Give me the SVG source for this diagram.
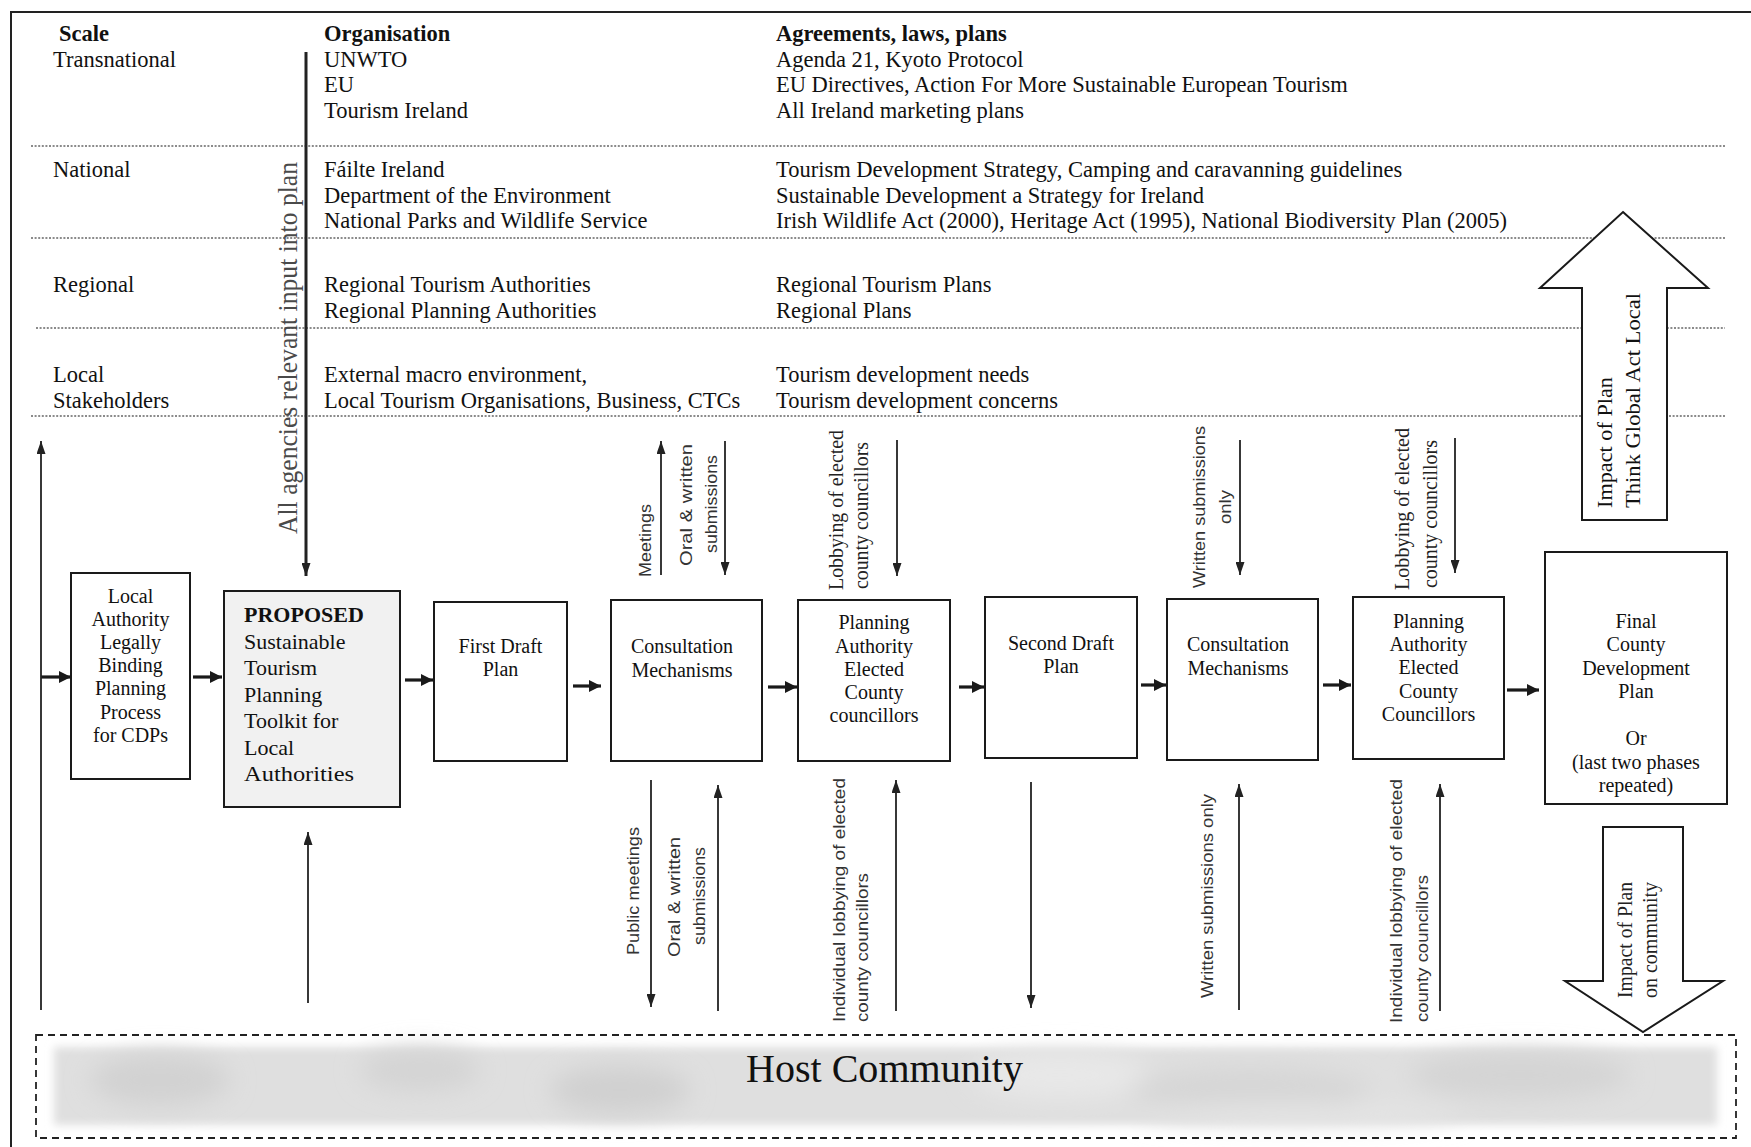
<svg xmlns="http://www.w3.org/2000/svg" width="1751" height="1147" viewBox="0 0 1751 1147">
  <style>
    .t { font-family: "Liberation Serif", "Times New Roman", serif; fill: #111; }
    .h { font-size: 22.5px; }
    .b { font-weight: bold; }
    .bx { fill: #fff; stroke: #1a1a1a; stroke-width: 2; }
    .bt { font-family: "Liberation Serif", "Times New Roman", serif; font-size: 20px; text-anchor: middle; fill: #111; }
    .s { font-family: "Liberation Sans", Arial, sans-serif; font-size: 17px; fill: #333; }
    .r20 { font-family: "Liberation Serif", "Times New Roman", serif; font-size: 20px; fill: #222; }
    .dot { stroke: #666; stroke-width: 1.4; stroke-dasharray: 2 1.6; fill: none; }
    .thick { stroke: #1a1a1a; stroke-width: 3.2; fill: none; marker-end: url(#hh); }
    .thin { stroke: #222; stroke-width: 1.8; fill: none; marker-end: url(#hv); }
    .frame { stroke: #222; stroke-width: 2; fill: none; }
    .block { fill: #fff; stroke: #1a1a1a; stroke-width: 2; stroke-linejoin: miter; }
  </style>
  <defs>
    <marker id="hh" markerUnits="userSpaceOnUse" markerWidth="12" markerHeight="12" viewBox="0 0 12 12" refX="12" refY="6" orient="auto">
      <path d="M0,0 L12,6 L0,12 Z" fill="#1a1a1a"/>
    </marker>
    <marker id="hv" markerUnits="userSpaceOnUse" markerWidth="13" markerHeight="9" viewBox="0 0 13 9" refX="13" refY="4.5" orient="auto">
      <path d="M0,0 L13,4.5 L0,9 Z" fill="#222"/>
    </marker>
    <filter id="soft" x="-5%" y="-30%" width="110%" height="160%">
      <feGaussianBlur stdDeviation="4"/>
    </filter>
    <filter id="cloud" x="-20%" y="-50%" width="140%" height="200%">
      <feGaussianBlur stdDeviation="12"/>
    </filter>
  </defs>

  <rect width="1751" height="1147" fill="#fff"/>

  <!-- outer frame: top and left edges -->
  <path class="frame" d="M11,1147 L11,12 L1751,12"/>

  <!-- scale table separators -->
  <g id="separators">
    <line class="dot" x1="31" y1="146" x2="1725" y2="146"/>
    <line class="dot" x1="31" y1="238" x2="1725" y2="238"/>
    <line class="dot" x1="36" y1="328" x2="1725" y2="328"/>
    <line class="dot" x1="31" y1="416" x2="1725" y2="416"/>
  </g>

  <!-- scale table -->
  <g id="scale-table" class="t h">
    <text class="b" x="59" y="41">Scale</text>
    <text x="53" y="67">Transnational</text>
    <text x="53" y="177">National</text>
    <text x="53" y="292">Regional</text>
    <text x="53" y="382">Local</text>
    <text x="53" y="408">Stakeholders</text>

    <text class="b" x="324" y="41">Organisation</text>
    <text x="324" y="67">UNWTO</text>
    <text x="324" y="92">EU</text>
    <text x="324" y="118">Tourism Ireland</text>
    <text x="324" y="177">Fáilte Ireland</text>
    <text x="324" y="203">Department of the Environment</text>
    <text x="324" y="228">National Parks and Wildlife Service</text>
    <text x="324" y="292">Regional Tourism Authorities</text>
    <text x="324" y="318">Regional Planning Authorities</text>
    <text x="324" y="382">External macro environment,</text>
    <text x="324" y="408">Local Tourism Organisations, Business, CTCs</text>

    <text class="b" x="776" y="41">Agreements, laws, plans</text>
    <text x="776" y="67">Agenda 21, Kyoto Protocol</text>
    <text x="776" y="92">EU Directives, Action For More Sustainable European Tourism</text>
    <text x="776" y="118">All Ireland marketing plans</text>
    <text x="776" y="177">Tourism Development Strategy, Camping and caravanning guidelines</text>
    <text x="776" y="203">Sustainable Development a Strategy for Ireland</text>
    <text x="776" y="228">Irish Wildlife Act (2000), Heritage Act (1995), National Biodiversity Plan (2005)</text>
    <text x="776" y="292">Regional Tourism Plans</text>
    <text x="776" y="318">Regional Plans</text>
    <text x="776" y="382">Tourism development needs</text>
    <text x="776" y="408">Tourism development concerns</text>
  </g>

  <!-- big block arrows -->
  <g id="impact-up">
    <polygon class="block" points="1623,212 1708,288 1667,288 1667,520 1582,520 1582,288 1540,288"/>
    <text class="t" font-size="22" transform="translate(1612,508) rotate(-90)" textLength="131" lengthAdjust="spacingAndGlyphs">Impact of Plan</text>
    <text class="t" font-size="22" transform="translate(1640,508) rotate(-90)" textLength="215" lengthAdjust="spacingAndGlyphs">Think Global Act Local</text>
  </g>
  <g id="impact-down">
    <polygon class="block" points="1603,827 1683,827 1683,981 1723,981 1643,1032 1565,981 1603,981"/>
    <text class="r20" transform="translate(1632,998) rotate(-90)" textLength="116" lengthAdjust="spacingAndGlyphs">Impact of Plan</text>
    <text class="r20" transform="translate(1657,998) rotate(-90)" textLength="116" lengthAdjust="spacingAndGlyphs">on community</text>
  </g>

  <!-- host community: soft mottled grey band inside a dashed outline -->
  <g id="host-community">
    <rect x="54" y="1047" width="1663" height="78" fill="#dfdfdf" filter="url(#soft)"/>
    <g filter="url(#cloud)">
      <ellipse cx="160" cy="1080" rx="70" ry="26" fill="#d2d2d2"/>
      <ellipse cx="420" cy="1070" rx="60" ry="22" fill="#d4d4d4"/>
      <ellipse cx="620" cy="1090" rx="70" ry="24" fill="#d0d0d0"/>
      <ellipse cx="1060" cy="1075" rx="90" ry="24" fill="#e8e8e8"/>
      <ellipse cx="1250" cy="1090" rx="120" ry="22" fill="#d6d6d6"/>
      <ellipse cx="1520" cy="1075" rx="110" ry="24" fill="#d4d4d4"/>
      <ellipse cx="1300" cy="1115" rx="160" ry="10" fill="#e6e6e6"/>
    </g>
    <rect x="36" y="1035" width="1700" height="103" fill="none" stroke="#222" stroke-width="1.8" stroke-dasharray="7 5"/>
    <text class="t" x="746" y="1082" font-size="40" textLength="277" lengthAdjust="spacingAndGlyphs">Host Community</text>
  </g>

  <!-- process nodes -->
  <g id="n-local-authority">
    <rect class="bx" x="71" y="573" width="119" height="206"/>
    <text class="bt" x="130.5" y="603">Local</text>
    <text class="bt" x="130.5" y="626">Authority</text>
    <text class="bt" x="130.5" y="649">Legally</text>
    <text class="bt" x="130.5" y="672">Binding</text>
    <text class="bt" x="130.5" y="695">Planning</text>
    <text class="bt" x="130.5" y="719">Process</text>
    <text class="bt" x="130.5" y="742">for CDPs</text>
  </g>
  <g id="n-proposed">
    <rect class="bx" x="224" y="591" width="176" height="216" style="fill:#f1f1f1"/>
    <g class="t" font-size="22">
      <text class="b" x="244" y="622">PROPOSED</text>
      <text x="244" y="648.5">Sustainable</text>
      <text x="244" y="675">Tourism</text>
      <text x="244" y="701.5">Planning</text>
      <text x="244" y="728">Toolkit for</text>
      <text x="244" y="754.5">Local</text>
      <text x="244" y="781" textLength="110" lengthAdjust="spacingAndGlyphs">Authorities</text>
    </g>
  </g>
  <g id="n-first-draft">
    <rect class="bx" x="434" y="602" width="133" height="159"/>
    <text class="bt" x="500.5" y="653">First Draft</text>
    <text class="bt" x="500.5" y="676">Plan</text>
  </g>
  <g id="n-consultation-1">
    <rect class="bx" x="611" y="600" width="151" height="161"/>
    <text class="bt" x="682" y="653">Consultation</text>
    <text class="bt" x="682" y="677">Mechanisms</text>
  </g>
  <g id="n-planning-authority-1">
    <rect class="bx" x="798" y="600" width="152" height="161"/>
    <text class="bt" x="874" y="629">Planning</text>
    <text class="bt" x="874" y="653">Authority</text>
    <text class="bt" x="874" y="676">Elected</text>
    <text class="bt" x="874" y="699">County</text>
    <text class="bt" x="874" y="722">councillors</text>
  </g>
  <g id="n-second-draft">
    <rect class="bx" x="985" y="597" width="152" height="161"/>
    <text class="bt" x="1061" y="650">Second Draft</text>
    <text class="bt" x="1061" y="673">Plan</text>
  </g>
  <g id="n-consultation-2">
    <rect class="bx" x="1167" y="599" width="151" height="161"/>
    <text class="bt" x="1238" y="651">Consultation</text>
    <text class="bt" x="1238" y="675">Mechanisms</text>
  </g>
  <g id="n-planning-authority-2">
    <rect class="bx" x="1353" y="597" width="151" height="162"/>
    <text class="bt" x="1428.5" y="628">Planning</text>
    <text class="bt" x="1428.5" y="651">Authority</text>
    <text class="bt" x="1428.5" y="674">Elected</text>
    <text class="bt" x="1428.5" y="698">County</text>
    <text class="bt" x="1428.5" y="721">Councillors</text>
  </g>
  <g id="n-final-plan">
    <rect class="bx" x="1545" y="552" width="182" height="252"/>
    <text class="bt" x="1636" y="628">Final</text>
    <text class="bt" x="1636" y="651">County</text>
    <text class="bt" x="1636" y="675">Development</text>
    <text class="bt" x="1636" y="698">Plan</text>
    <text class="bt" x="1636" y="745">Or</text>
    <text class="bt" x="1636" y="769">(last two phases</text>
    <text class="bt" x="1636" y="792">repeated)</text>
  </g>

  <!-- connectors -->
  <g id="connectors">
    <!-- main flow -->
    <line class="thick" x1="41" y1="677" x2="71" y2="677"/>
    <line class="thick" x1="193" y1="677" x2="222" y2="677"/>
    <line class="thick" x1="405" y1="680" x2="433" y2="680"/>
    <line class="thick" x1="573" y1="686" x2="601" y2="686"/>
    <line class="thick" x1="768" y1="687" x2="797" y2="687"/>
    <line class="thick" x1="959" y1="687" x2="984" y2="687"/>
    <line class="thick" x1="1141" y1="685" x2="1166" y2="685"/>
    <line class="thick" x1="1323" y1="685" x2="1351" y2="685"/>
    <line class="thick" x1="1507" y1="690" x2="1539" y2="690"/>

    <!-- agencies input and community feedback loop -->
    <line class="thin" x1="306" y1="52" x2="306" y2="576" style="stroke-width:3"/>
    <line class="thin" x1="41" y1="1010" x2="41" y2="441"/>
    <line class="thin" x1="308" y1="1003" x2="308" y2="832"/>

    <!-- above the process row -->
    <line class="thin" x1="661" y1="575" x2="661" y2="441"/>
    <line class="thin" x1="725" y1="441" x2="725" y2="575"/>
    <line class="thin" x1="897" y1="440" x2="897" y2="576"/>
    <line class="thin" x1="1240" y1="440" x2="1240" y2="575"/>
    <line class="thin" x1="1455" y1="438" x2="1455" y2="573"/>

    <!-- below the process row -->
    <line class="thin" x1="651" y1="780" x2="651" y2="1007"/>
    <line class="thin" x1="718" y1="1011" x2="718" y2="785"/>
    <line class="thin" x1="896" y1="1011" x2="896" y2="780"/>
    <line class="thin" x1="1031" y1="782" x2="1031" y2="1008"/>
    <line class="thin" x1="1239" y1="1010" x2="1239" y2="784"/>
    <line class="thin" x1="1440" y1="1011" x2="1440" y2="784"/>

    <!-- connector labels -->
    <text class="t" font-size="28" style="fill:#4a4a4a" transform="translate(297,534) rotate(-90)" textLength="372" lengthAdjust="spacingAndGlyphs">All  agencies relevant input into plan</text>

    <text class="s" transform="translate(651,577) rotate(-90)" textLength="73" lengthAdjust="spacingAndGlyphs">Meetings</text>
    <text class="s" transform="translate(692,566) rotate(-90)" textLength="122" lengthAdjust="spacingAndGlyphs">Oral &amp; written</text>
    <text class="s" transform="translate(717,553) rotate(-90)" textLength="98" lengthAdjust="spacingAndGlyphs">submissions</text>

    <text class="r20" transform="translate(843,590) rotate(-90)" textLength="160" lengthAdjust="spacingAndGlyphs">Lobbying of elected</text>
    <text class="r20" transform="translate(868,589) rotate(-90)" textLength="147" lengthAdjust="spacingAndGlyphs">county councillors</text>

    <text class="s" transform="translate(1205,588) rotate(-90)" textLength="162" lengthAdjust="spacingAndGlyphs">Written submissions</text>
    <text class="s" transform="translate(1231,524) rotate(-90)" textLength="34" lengthAdjust="spacingAndGlyphs">only</text>

    <text class="r20" transform="translate(1409,590) rotate(-90)" textLength="162" lengthAdjust="spacingAndGlyphs">Lobbying of elected</text>
    <text class="r20" transform="translate(1437,588) rotate(-90)" textLength="148" lengthAdjust="spacingAndGlyphs">county councillors</text>

    <text class="s" transform="translate(639,955) rotate(-90)" textLength="128" lengthAdjust="spacingAndGlyphs">Public meetings</text>
    <text class="s" transform="translate(680,957) rotate(-90)" textLength="120" lengthAdjust="spacingAndGlyphs">Oral &amp; written</text>
    <text class="s" transform="translate(705,945) rotate(-90)" textLength="98" lengthAdjust="spacingAndGlyphs">submissions</text>

    <text class="s" transform="translate(845,1022) rotate(-90)" textLength="244" lengthAdjust="spacingAndGlyphs">Individual lobbying of elected</text>
    <text class="s" transform="translate(868,1022) rotate(-90)" textLength="149" lengthAdjust="spacingAndGlyphs">county councillors</text>

    <text class="s" transform="translate(1213,998) rotate(-90)" textLength="204" lengthAdjust="spacingAndGlyphs">Written submissions only</text>

    <text class="s" transform="translate(1402,1023) rotate(-90)" textLength="244" lengthAdjust="spacingAndGlyphs">Individual lobbying of elected</text>
    <text class="s" transform="translate(1428,1022) rotate(-90)" textLength="147" lengthAdjust="spacingAndGlyphs">county councillors</text>
  </g>
</svg>
